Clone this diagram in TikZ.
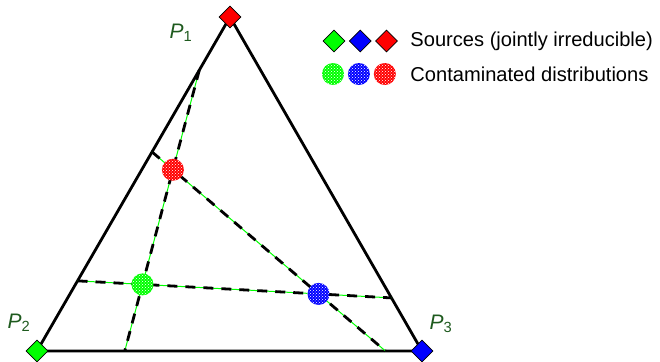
\documentclass[tikz,border=0pt]{standalone}
\usepackage{fontspec}
\setmainfont{Liberation Sans}
\usetikzlibrary{shapes.geometric,positioning,calc,patterns}
\definecolor{srcgreen}{HTML}{00FF00}
\definecolor{srcblue}{HTML}{0000FF}
\definecolor{srcred}{HTML}{FF0000}
\definecolor{lblgreen}{HTML}{1E5A1E}

\begin{document}
\begin{tikzpicture}[x=1pt,y=-1pt,
  src/.style={diamond,draw=black,line width=0.7pt,fill=#1,minimum width=22pt,minimum height=22pt,inner sep=0pt},
  contam/.style={circle,fill=#1,minimum size=22pt,inner sep=0pt,postaction={pattern=crosshatch dots,pattern color=white}},
  side/.style={line width=2.8pt,line join=round},
  mix/.style={draw=srcgreen,line width=1pt,postaction={draw=black,line width=2.8pt,dash pattern=on 10pt off 8pt}},
  vlabel/.style={text=lblgreen,inner sep=0pt,font=\fontsize{21}{25}\selectfont\itshape},
  legtext/.style={anchor=west,inner sep=0pt,font=\fontsize{20.1}{24}\selectfont}
]
\useasboundingbox (0,0) rectangle (660,361);
\coordinate (v1) at (230,17);
\coordinate (v2) at (37,351);
\coordinate (v3) at (422,351);
% points where the mixing lines meet the sides
\coordinate (a1) at ($(v1)!0.159!(v2)$);
\coordinate (a2) at ($(v2)!0.228!(v3)$);
\coordinate (b1) at ($(v1)!0.404!(v2)$);
\coordinate (b2) at ($(v2)!0.905!(v3)$);
\coordinate (c1) at ($(v1)!0.79!(v2)$);
\coordinate (c2) at ($(v1)!0.841!(v3)$);
\draw[side] (v1) -- (v2) -- (v3) -- cycle;
\draw[mix] (a1) -- (a2);
\draw[mix] (b1) -- (b2);
\draw[mix] (c1) -- (c2);
\node[contam=srcred] (cr) at (intersection of a1--a2 and b1--b2) {};
\node[contam=srcgreen] (cg) at (intersection of a1--a2 and c1--c2) {};
\node[contam=srcblue] (cb) at (intersection of b1--b2 and c1--c2) {};
\node[src=srcred] (p1) at (v1) {};
\node[src=srcgreen] (p2) at (v2) {};
\node[src=srcblue] (p3) at (v3) {};
\node[vlabel] (l1) at (181,33) {P{\upshape\textsubscript{1}}};
\node[vlabel] (l2) at (19,323) {P{\upshape\textsubscript{2}}};
\node[vlabel] (l3) at (441,324) {P{\upshape\textsubscript{3}}};
% legend
\node[src=srcgreen] (kg) at (334,41) {};
\node[src=srcblue,right=3.5pt of kg] (kb) {};
\node[src=srcred,right=3.5pt of kb] (kr) {};
\node[legtext,right=12.5pt of kr] (ksrc) {Sources (jointly irreducible)};
\node[contam=srcgreen] (mg) at (333,74) {};
\node[contam=srcblue,right=3.5pt of mg] (mb) {};
\node[contam=srcred,right=3.5pt of mb] (mr) {};
\node[legtext] (kmix) at (ksrc.west |- mr) {Contaminated distributions};
\end{tikzpicture}
\end{document}
